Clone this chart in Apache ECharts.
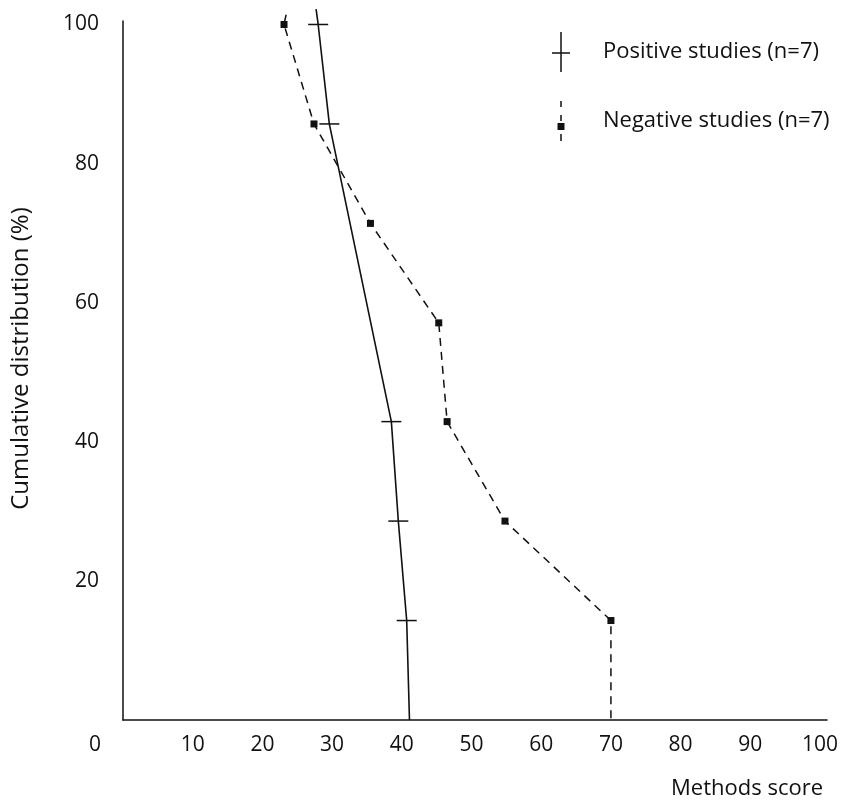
<!DOCTYPE html>
<html>
<head>
<meta charset="utf-8">
<script src="https://cdn.jsdelivr.net/npm/echarts@6/dist/echarts.min.js"></script>
<style>
    html, body { margin: 0; padding: 0; background: #fff; }
    #chart { width: 844px; height: 800px; }
</style>
</head>
<body>
<div id="chart"></div>
<script>
// methods score vs cumulative distribution (%), first point is the small overshoot above 100
var scorePositive = [27.7, 28.0, 29.6, 38.5, 39.5, 40.7, 41.1];
var cumPositive = [102.2, 100, 85.7, 42.9, 28.6, 14.3, 0];

var scoreNegative = [23.4, 23.1, 27.4, 35.5, 45.3, 46.5, 54.8, 70.0, 70.0];
var cumNegative = [101.4, 100, 85.7, 71.4, 57.1, 42.9, 28.6, 14.3, 0];

var xTicks = [0, 10, 20, 30, 40, 50, 60, 70, 80, 90, 100];
var yTicks = [20, 40, 60, 80, 100];

var seriesNames = ['Positive studies (n=7)', 'Negative studies (n=7)'];

var myChart = echarts.init(document.getElementById('chart'));

function toPoints(xs, ys) {
    var pts = [];
    for (var i = 0; i < xs.length; i++) {
        var item = { value: [xs[i], ys[i]] };
        // no marker on the overshoot and on the axis end point
        if (i == 0 || i == xs.length - 1) {
            item.symbol = 'none';
        }
        pts.push(item);
    }
    return pts;
}

var ink = '#111';
var font = 'Open Sans';

var option = {
    backgroundColor: '#fff',
    animation: false,
    grid: {
        left: 123,
        right: 17,
        top: 21,
        bottom: 80
    },
    legend: {
        orient: 'vertical',
        left: 547,
        top: 27,
        itemGap: 29,
        itemWidth: 18,
        itemHeight: 40,
        textStyle: {
            fontFamily: font,
            fontSize: 22,
            color: ink,
            padding: [0, 0, 0, 28]
        },
        data: [
            {
                name: seriesNames[0],
                icon: 'path://M8.25,0h1.5v40h-1.5z M0,20.25h18v1.5h-18z'
            },
            {
                name: seriesNames[1],
                icon: 'path://M8.25,0h1.5v6h-1.5z M8.25,14h1.5v6h-1.5z M5.5,22h7v7h-7z M8.25,33h1.5v7h-1.5z M0,0h0.01v0.01h-0.01z M17.99,0h0.01v0.01h-0.01z'
            }
        ]
    },
    xAxis: {
        type: 'value',
        min: 0,
        max: 101,
        interval: 10,
        name: 'Methods score',
        nameLocation: 'end',
        nameGap: -4,
        nameTextStyle: {
            fontFamily: font,
            fontSize: 22,
            color: ink,
            align: 'right',
            verticalAlign: 'top',
            padding: [58, 0, 0, 0]
        },
        axisLine: { lineStyle: { color: ink, width: 1.5 } },
        axisTick: { show: false },
        splitLine: { show: false },
        axisLabel: {
            margin: 15,
            showMaxLabel: false,
            fontFamily: font,
            fontSize: 21,
            color: ink,
            formatter: function (v) {
                if (xTicks.indexOf(v) < 0) return '';
                if (v == 0) return '{z|0}';
                return String(v);
            },
            rich: {
                z: {
                    fontFamily: font,
                    fontSize: 21,
                    color: ink,
                    padding: [0, 56, 0, 0]
                }
            }
        }
    },
    yAxis: {
        type: 'value',
        min: 0,
        max: 100.5,
        interval: 20,
        name: 'Cumulative distribution (%)',
        nameLocation: 'middle',
        nameGap: 90,
        nameTextStyle: {
            fontFamily: font,
            fontSize: 24,
            color: ink,
            padding: [0, 0, 0, 24]
        },
        axisLine: { show: true, lineStyle: { color: ink, width: 1.5 } },
        axisTick: { show: false },
        splitLine: { show: false },
        axisLabel: {
            margin: 24,
            showMaxLabel: false,
            fontFamily: font,
            fontSize: 21,
            color: ink,
            formatter: function (v) {
                return yTicks.indexOf(v) < 0 ? '' : String(v);
            }
        }
    },
    series: [
        {
            name: seriesNames[0],
            type: 'line',
            clip: false,
            data: toPoints(scorePositive, cumPositive),
            symbol: 'rect',
            symbolSize: [20, 1.5],
            itemStyle: { color: ink },
            lineStyle: { color: ink, width: 1.6, type: 'solid' }
        },
        {
            name: seriesNames[1],
            type: 'line',
            clip: false,
            data: toPoints(scoreNegative, cumNegative),
            symbol: 'rect',
            symbolSize: 7,
            itemStyle: { color: ink },
            lineStyle: { color: ink, width: 1.5, type: [8, 6] }
        }
    ]
};

myChart.setOption(option);
</script>
</body>
</html>
